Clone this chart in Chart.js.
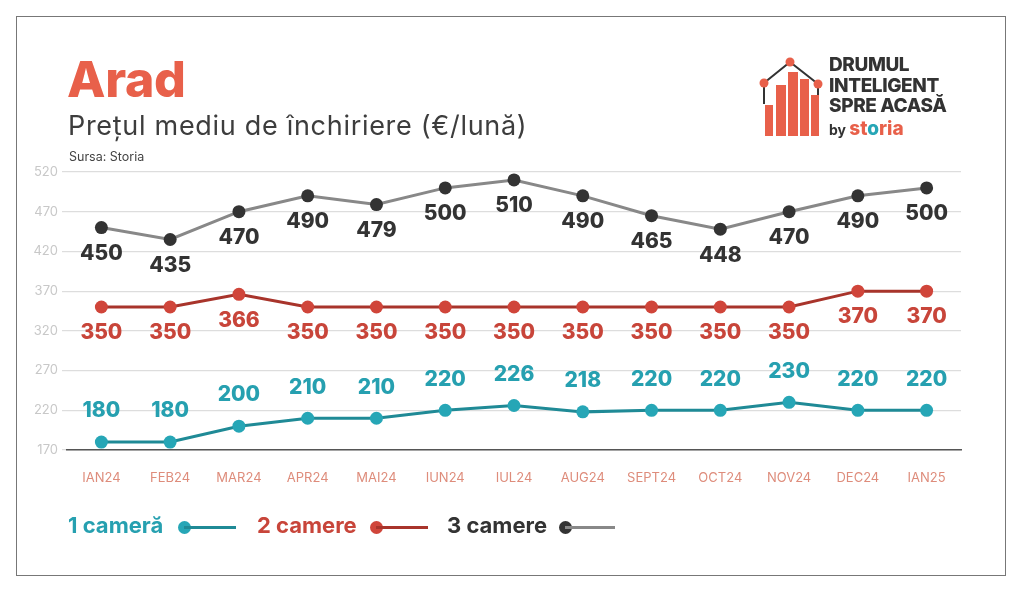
<!DOCTYPE html>
<html lang="ro">
<head>
    <meta charset="UTF-8">
    <title>Arad - Pretul mediu de inchiriere</title>
    <script src="https://cdn.jsdelivr.net/npm/chart.js"></script>
    <style>
        html, body { margin: 0; padding: 0; background: #fff; }
        body { width: 1024px; height: 593px; position: relative; overflow: hidden; font-family: "Open Sans", Arial, sans-serif; }
        #frame { position: absolute; left: 16px; top: 16px; width: 990px; height: 560px; border: 1.5px solid #777; box-sizing: border-box; }
        #title { position: absolute; left: 67px; top: 49px; font-family: Inter, sans-serif; font-weight: 800; font-size: 50px; color: #e8604a; letter-spacing: -0.3px; }
        #subtitle { position: absolute; left: 68px; top: 109px; font-family: Inter, sans-serif; font-size: 27px; color: #3d3d3d; letter-spacing: 0.7px; }
        #source { position: absolute; left: 69px; top: 149px; font-family: Inter, sans-serif; font-size: 12.5px; color: #444; }
        #chart-container { position: absolute; left: 0; top: 0; width: 1024px; height: 593px; }
        .legend { position: absolute; top: 512px; font-family: Inter, sans-serif; font-weight: 700; font-size: 22px; }
        .legend .mark { position: absolute; top: 14px; height: 3px; }
        .legend .dot { position: absolute; top: 9px; width: 13px; height: 13px; border-radius: 50%; }
        #logo { position: absolute; left: 758px; top: 54px; }
        #logo-text { position: absolute; left: 829px; top: 55px; font-family: Inter, sans-serif; font-weight: 800; font-size: 19px; line-height: 20.5px; color: #333; letter-spacing: -0.4px; }
        #logo-by { position: absolute; left: 829px; top: 117px; font-family: Inter, sans-serif; font-weight: 700; font-size: 14px; color: #333; }
        #logo-by b { color: #e8604a; font-size: 19px; font-weight: 800; }
    </style>
</head>
<body>
    <div id="frame"></div>
    <div id="chart-container"><canvas id="rentChart"></canvas></div>
    <div id="title">Arad</div>
    <div id="subtitle">Preţul mediu de închiriere (€/lună)</div>
    <div id="source">Sursa: Storia</div>

    <svg id="logo" width="70" height="86" viewBox="0 0 70 86">
        <polyline points="6,50 6,29 32,8 60,30 60,50" fill="none" stroke="#333" stroke-width="2"/>
        <rect x="7" y="51" width="8" height="31" fill="#e8604a"/>
        <rect x="18" y="31" width="10" height="51" fill="#e8604a"/>
        <rect x="30" y="18" width="10" height="64" fill="#e8604a"/>
        <rect x="42" y="25" width="9" height="57" fill="#e8604a"/>
        <rect x="53" y="41" width="8" height="41" fill="#e8604a"/>
        <circle cx="6" cy="29" r="4.5" fill="#e8604a"/>
        <circle cx="32" cy="8" r="4.5" fill="#e8604a"/>
        <circle cx="60" cy="30" r="4.5" fill="#e8604a"/>
    </svg>
    <div id="logo-text">DRUMUL<br>INTELIGENT<br>SPRE ACASĂ</div>
    <div id="logo-by">by <b>st<span style="color:#26a6b6">o</span>ria</b></div>

    <div class="legend" style="left:68px; color:#26a0b0;">1 cameră
        <span class="dot" style="left:110px; background:#26a6b6;"></span>
        <span class="mark" style="left:116px; width:52px; background:#1f8a96;"></span>
    </div>
    <div class="legend" style="left:257px; color:#c8453a;">2 camere
        <span class="dot" style="left:113px; background:#d0453a;"></span>
        <span class="mark" style="left:119px; width:52px; background:#a8342b;"></span>
    </div>
    <div class="legend" style="left:447px; color:#333;">3 camere
        <span class="dot" style="left:112px; background:#333;"></span>
        <span class="mark" style="left:118px; width:50px; background:#888;"></span>
    </div>

    <script>
        const months = ["IAN24", "FEB24", "MAR24", "APR24", "MAI24", "IUN24", "IUL24",
                        "AUG24", "SEPT24", "OCT24", "NOV24", "DEC24", "IAN25"];
        const oneRoom = [180, 180, 200, 210, 210, 220, 226, 218, 220, 220, 230, 220, 220];
        const twoRooms = [350, 350, 366, 350, 350, 350, 350, 350, 350, 350, 350, 370, 370];
        const threeRooms = [450, 435, 470, 490, 479, 500, 510, 490, 465, 448, 470, 490, 500];
        const yTicks = [170, 220, 270, 320, 370, 420, 470, 520];

        // value labels under / over each point
        const valueLabels = {
            id: "valueLabels",
            afterDatasetsDraw(chart) {
                const ctx = chart.ctx;
                ctx.save();
                ctx.font = "800 21px Inter, sans-serif";
                ctx.textAlign = "center";
                ctx.textBaseline = "middle";
                chart.data.datasets.forEach((ds, i) => {
                    const meta = chart.getDatasetMeta(i);
                    ctx.fillStyle = ds.labelColor;
                    meta.data.forEach((pt, j) => {
                        ctx.fillText(ds.data[j], pt.x, pt.y + ds.labelOffset);
                    });
                });
                ctx.restore();
            }
        };

        const ctx = document.getElementById("rentChart").getContext("2d");
        const rentChart = new Chart(ctx, {
            type: "line",
            data: {
                labels: months,
                datasets: [
                    {
                        label: "1 cameră",
                        data: oneRoom,
                        borderColor: "#1f8a96",
                        backgroundColor: "#26a6b6",
                        pointBackgroundColor: "#26a6b6",
                        pointBorderWidth: 0,
                        pointRadius: 6.5,
                        borderWidth: 3,
                        labelColor: "#26a0b0",
                        labelOffset: -31
                    },
                    {
                        label: "2 camere",
                        data: twoRooms,
                        borderColor: "#a8342b",
                        backgroundColor: "#d0453a",
                        pointBackgroundColor: "#d0453a",
                        pointBorderWidth: 0,
                        pointRadius: 6.5,
                        borderWidth: 3,
                        labelColor: "#c8453a",
                        labelOffset: 26
                    },
                    {
                        label: "3 camere",
                        data: threeRooms,
                        borderColor: "#888",
                        backgroundColor: "#333",
                        pointBackgroundColor: "#333",
                        pointBorderWidth: 0,
                        pointRadius: 6.5,
                        borderWidth: 3,
                        labelColor: "#333",
                        labelOffset: 26
                    }
                ]
            },
            options: {
                responsive: true,
                maintainAspectRatio: false,
                animation: false,
                layout: { padding: { left: 22, right: 63, top: 172, bottom: 103 } },
                plugins: {
                    legend: { display: false },
                    tooltip: { enabled: false }
                },
                scales: {
                    x: {
                        offset: true,
                        grid: { display: false },
                        border: { color: "#555", width: 1.5 },
                        ticks: { color: "#de8c7b", font: { family: "Inter", size: 13 }, padding: 12, maxRotation: 0, autoSkip: false },
                        afterFit: s => { s.height = 40; }
                    },
                    y: {
                        min: 170,
                        max: 520,
                        afterBuildTicks: s => { s.ticks = yTicks.map(v => ({ value: v })); },
                        grid: { color: "#ddd", tickLength: 5, lineWidth: 1.2 },
                        border: { display: false },
                        ticks: { color: "#c8c8c8", font: { family: "Inter", size: 13 }, padding: 4 },
                        afterFit: s => { s.width = 45; }
                    }
                }
            },
            plugins: [valueLabels]
        });
    </script>
</body>
</html>
